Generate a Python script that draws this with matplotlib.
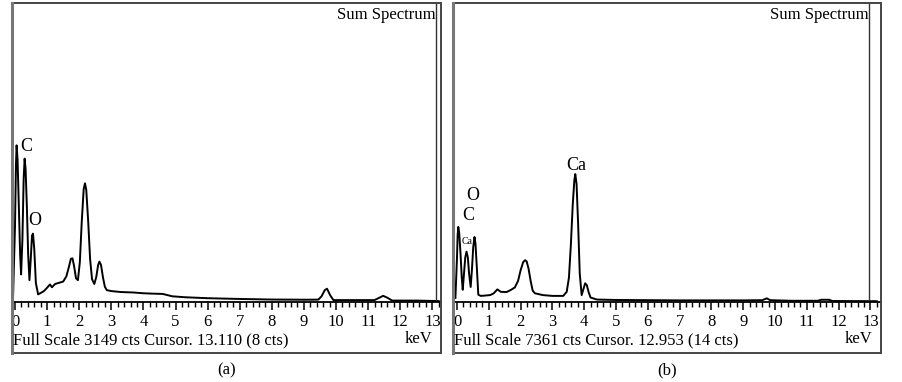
import matplotlib.pyplot as plt
from matplotlib.ticker import MultipleLocator
from matplotlib.patches import Rectangle

plt.rcParams['font.family'] = ['Liberation Serif', 'DejaVu Serif']

# spectrum (a): energy in keV, counts
energy_a = [-0.06, 0.0, 0.03, 0.05, 0.08, 0.12, 0.16, 0.19, 0.23, 0.27, 0.30, 0.33, 0.37,
            0.41, 0.45, 0.49, 0.53, 0.56, 0.60, 0.65, 0.72, 0.80, 0.90, 1.00, 1.09, 1.15,
            1.25, 1.40, 1.50, 1.60, 1.68, 1.74, 1.79, 1.84, 1.90, 1.96, 2.02, 2.08, 2.14,
            2.18, 2.22, 2.28, 2.34, 2.40, 2.47, 2.53, 2.59, 2.63, 2.68, 2.74, 2.80, 2.86,
            3.0, 3.3, 3.7, 4.0, 4.3, 4.6, 4.9, 5.3, 6.0, 7.0, 8.0, 9.0, 9.45, 9.55, 9.65,
            9.72, 9.82, 9.92, 10.5, 11.2, 11.35, 11.47, 11.6, 11.75, 12.5, 13.2]
counts_a = [60, 800, 1450, 1650, 1500, 1000, 500, 290, 650, 1300, 1510, 1400, 1000,
            500, 230, 450, 700, 720, 560, 200, 80, 95, 115, 150, 185, 155,
            190, 205, 215, 270, 370, 455, 460, 380, 250, 230, 420, 850, 1190,
            1250, 1180, 850, 450, 240, 190, 260, 390, 425, 390, 260, 160, 125,
            115, 105, 100, 92, 88, 85, 60, 50, 40, 32, 26, 24, 25, 60, 125,
            140, 70, 20, 20, 20, 45, 65, 45, 15, 15, 10]

# spectrum (b)
energy_b = [-0.05, 0.0, 0.02, 0.04, 0.07, 0.11, 0.15, 0.18, 0.22, 0.26, 0.30, 0.34, 0.38,
            0.43, 0.47, 0.51, 0.55, 0.58, 0.62, 0.67, 0.75, 0.90, 1.04, 1.15, 1.27, 1.38,
            1.56, 1.70, 1.82, 1.92, 2.00, 2.08, 2.14, 2.19, 2.25, 2.32, 2.38, 2.45, 2.70,
            3.0, 3.34, 3.45, 3.52, 3.58, 3.64, 3.69, 3.72, 3.76, 3.81, 3.86, 3.92, 3.98,
            4.03, 4.08, 4.14, 4.20, 4.4, 5.0, 6.0, 7.0, 8.0, 9.0, 9.6, 9.74, 9.85, 10.5,
            11.35, 11.45, 11.7, 11.8, 13.2]
counts_b = [100, 1100, 1650, 1850, 1700, 1200, 600, 300, 700, 1100, 1240, 1100, 700,
            370, 800, 1350, 1600, 1450, 900, 180, 150, 160, 170, 210, 310, 250,
            245, 300, 360, 520, 780, 980, 1030, 1000, 820, 500, 280, 215, 170,
            150, 150, 250, 600, 1400, 2400, 3000, 3150, 2900, 1900, 700, 170, 330,
            460, 420, 240, 110, 60, 50, 45, 40, 40, 40, 45, 90, 45, 30,
            30, 55, 55, 25, 20]

full_scale = [3149, 7361]
cursor_kev = [13.110, 12.953]
cursor_cts = [8, 14]
captions = ['(a)', '(b)']

fig = plt.figure(figsize=(9.02, 3.82), dpi=100)
W, H = 902, 382

# panel boxes in pixels: left, right, x of 0 keV, px per keV
panels = [(12, 441, 15, 32.1), (453, 881, 457, 31.8)]
top_px, axis_px, bottom_px = 3, 302, 353

spectra = [(energy_a, counts_a), (energy_b, counts_b)]
axes = []
for i, (x0, x1, zero_px, scale) in enumerate(panels):
    ax = fig.add_axes([x0 / W, (H - axis_px) / H, (x1 - x0) / W, (axis_px - top_px) / H])
    e, c = spectra[i]
    ax.plot(e, c, color='black', lw=1.4)
    ax.set_xlim((x0 - zero_px) / scale, (x1 - zero_px) / scale)
    ax.set_ylim(0, full_scale[i])
    for s in ['top', 'left', 'right']:
        ax.spines[s].set_visible(False)
    ax.spines['bottom'].set_linewidth(1.3)
    ax.set_yticks([])
    ax.set_xticks(range(0, 14))
    ax.xaxis.set_minor_locator(MultipleLocator(0.2))
    ax.tick_params(axis='x', which='major', direction='out', length=6, width=1.1,
                   labelsize=12, pad=3)
    ax.tick_params(axis='x', which='minor', direction='out', length=3.5, width=1)
    ax.axvline(cursor_kev[i], color='#333333', lw=1)
    ax.text(cursor_kev[i], 0.985 * full_scale[i], 'Sum Spectrum', ha='right', va='top',
            fontsize=12)
    axes.append(ax)

    # panel frame
    fig.patches.append(Rectangle((x0 / W, (H - bottom_px) / H), (x1 - x0) / W,
                                 (bottom_px - top_px) / H, transform=fig.transFigure,
                                 fill=False, edgecolor='#444444', lw=1.4))
    fig.lines.append(plt.Line2D([x0 / W, x0 / W], [(H - bottom_px) / H, (H - top_px) / H],
                                transform=fig.transFigure, color='#777777', lw=2.2))

    fig.text((x0 + 1) / W, (H - 340) / H,
             f'Full Scale {full_scale[i]} cts Cursor. {cursor_kev[i]:.3f} ({cursor_cts[i]} cts)',
             ha='left', va='center', fontsize=12)
    fig.text((x1 - 9) / W, (H - 339) / H, 'keV', ha='right', va='center', fontsize=12)
    fig.text((x0 + x1) / 2 / W, (H - 370) / H, captions[i], ha='center', va='center',
             fontsize=12)

# element labels
axes[0].text(0.34, 1640, 'C', ha='center', va='center', fontsize=13)
axes[0].text(0.62, 860, 'O', ha='center', va='center', fontsize=13)
axes[1].text(0.48, 2610, 'O', ha='center', va='center', fontsize=13)
axes[1].text(0.34, 2140, 'C', ha='center', va='center', fontsize=13)
axes[1].text(0.31, 1500, 'Ca', ha='center', va='center', fontsize=7)
axes[1].text(3.74, 3370, 'Ca', ha='center', va='center', fontsize=13)

fig.savefig('out.png', dpi=100)
